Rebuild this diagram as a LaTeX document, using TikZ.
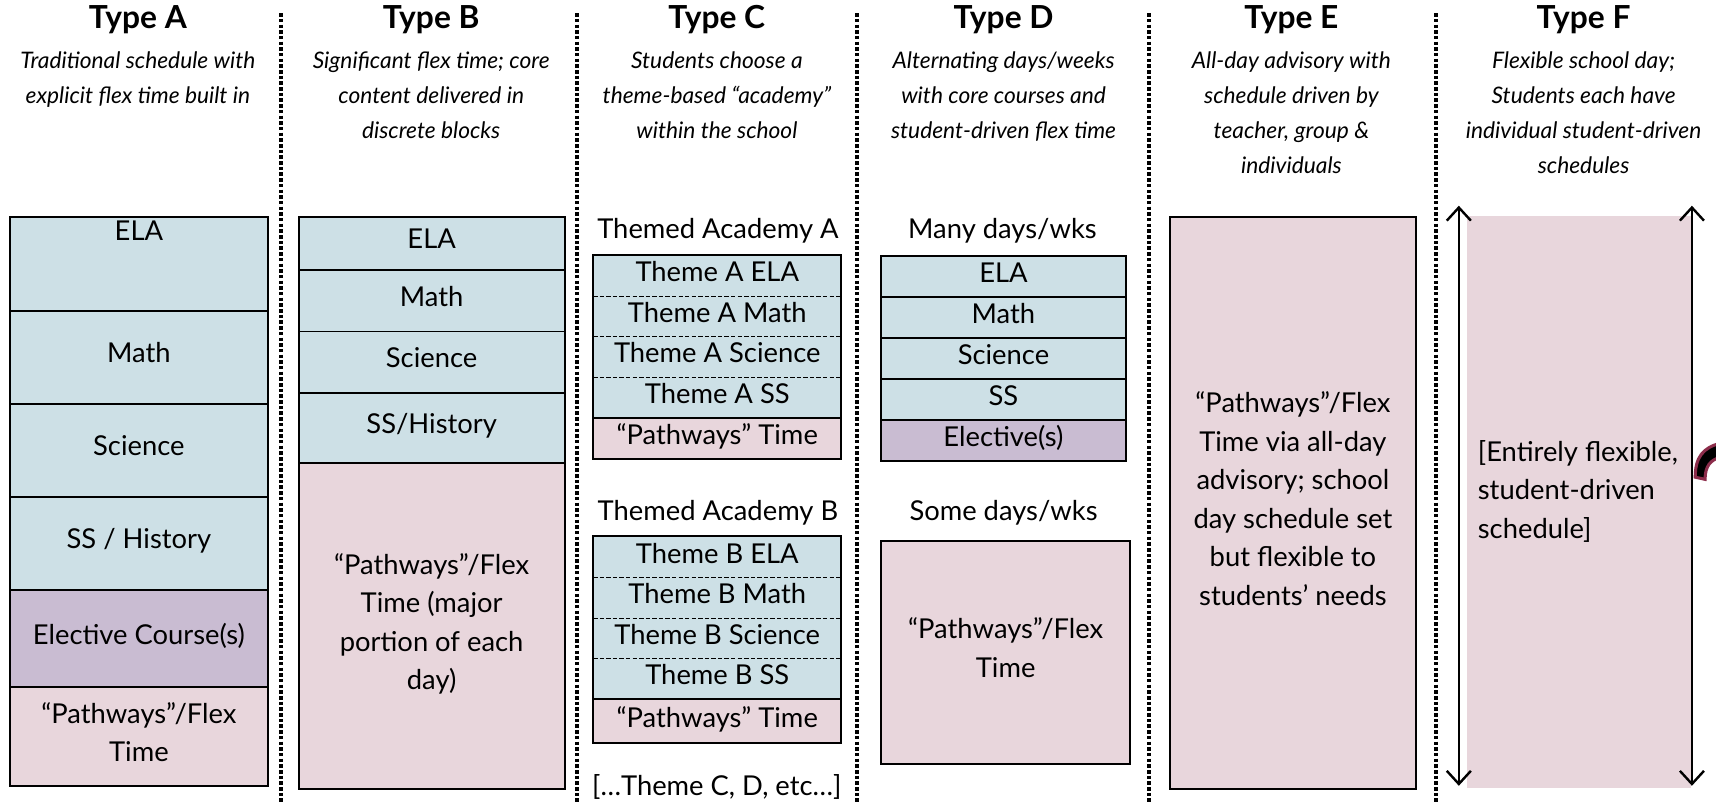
\documentclass[tikz,border=0pt]{standalone}
\usepackage{fontspec}
\setmainfont{Lato}
\usepackage{xcolor}
\usepackage{tikz}
\usetikzlibrary{positioning,calc,arrows.meta}
\definecolor{CoreBlue}{RGB}{205,224,230}
\definecolor{FlexPink}{RGB}{232,214,220}
\definecolor{ElecPurple}{RGB}{201,188,210}
\definecolor{SwooshRed}{RGB}{140,45,75}
\newcommand\bodyfont{\fontsize{12.5}{17.6}\selectfont}
\newcommand\subfont{\fontsize{10.4}{16}\selectfont\itshape}
\newcommand\typefont{\fontsize{14.5}{17}\selectfont\bfseries}

\begin{document}
\begin{tikzpicture}[
		x=0.5pt, y=-0.5pt,
		cell/.style={draw, line width=0.9pt, anchor=north west, inner sep=0pt, align=center, font=\bodyfont, text depth=4pt},
		core/.style={cell, fill=CoreBlue},
		flex/.style={cell, fill=FlexPink},
		elec/.style={cell, fill=ElecPurple},
		flat/.style={anchor=north west, inner sep=0pt, fill=CoreBlue, font=\bodyfont, text depth=3.5pt},
		head/.style={font=\typefont},
		sub/.style={font=\subfont, align=center, anchor=north, inner sep=0pt},
		lbl/.style={font=\bodyfont},
		divider/.style={line width=1.7pt, dash pattern=on 1.6pt off 1pt},
		flexarrow/.style={line width=1.1pt, {Straight Barb[length=6pt,width=11pt]}-{Straight Barb[length=6pt,width=11pt]}}
		]
		\useasboundingbox (0,0) rectangle (1568,736.5);
		
		% ===== headers =====
		\foreach \x/\t in {126/A,394/B,655/C,917/D,1180/E,1447/F}{
			\node[head] (T\t) at (\x,18) {Type \t};
		}
		\node[sub] (SA) at (126,47) {Traditional schedule with\\explicit flex time built in};
		\node[sub] (SB) at (394,47) {Significant flex time; core\\content delivered in\\discrete blocks};
		\node[sub] (SC) at (655,47) {Students choose a\\theme-based “academy”\\within the school};
		\node[sub] (SD) at (917,47) {Alternating days/weeks\\with core courses and\\student-driven flex time};
		\node[sub] (SE) at (1180,47) {All-day advisory with\\schedule driven by\\teacher, group \&\\individuals};
		\node[sub] (SF) at (1447,47) {Flexible school day;\\Students each have\\individual student-driven\\schedules};
		
		% ===== dotted dividers =====
		\foreach \x in {257,527,783,1050,1312}{
			\draw[divider] (\x,12) -- (\x,734);
		}
		
		% ===== Type A =====
		\node[core, minimum width=118pt, minimum height=43pt, text depth=30pt] (A1) at (8,197) {ELA};
		\node[core, minimum width=118pt, minimum height=42.5pt] (A2) at (8,283) {Math};
		\node[core, minimum width=118pt, minimum height=42.5pt] (A3) at (8,368) {Science};
		\node[core, minimum width=118pt, minimum height=42.5pt] (A4) at (8,453) {SS / History};
		\node[elec, minimum width=118pt, minimum height=44.5pt] (A5) at (8,538) {Elective Course(s)};
		\node[flex, minimum width=118pt, minimum height=45pt] (A6) at (8,627) {“Pathways”/Flex\\Time};
		
		% ===== Type B =====
		\node[core, minimum width=121.5pt, minimum height=24.5pt] (B1) at (272,197) {ELA};
		\node[core, minimum width=121.5pt, minimum height=28pt] (B2) at (272,246) {Math};
		\node[core, minimum width=121.5pt, minimum height=28pt] (B3) at (272,302) {Science};
		\node[core, minimum width=121.5pt, minimum height=32pt] (B4) at (272,358) {SS/History};
		\node[flex, minimum width=121.5pt, minimum height=149pt] (B5) at (272,422) {“Pathways”/Flex\\Time (major\\portion of each\\day)};
		
		% ===== Type C =====
		\node[lbl] (CAlbl) at (656,211) {Themed Academy A};
		\foreach \t [count=\i] in {Theme A ELA,Theme A Math,Theme A Science,Theme A SS}{
			\node[flat, minimum width=113pt, minimum height=18.5pt] (CA\i) at (542,{233+(\i-1)*37}) {\t};
		}
		\node[flat, fill=FlexPink, minimum width=113pt, minimum height=19pt] (CA5) at (542,381) {“Pathways” Time};
		\foreach \i in {1,2,3}{
			\draw[line width=0.5pt, dash pattern=on 2pt off 1pt] (CA\i.south west) -- (CA\i.south east);
		}
		\draw[line width=0.9pt] (CA4.south west) -- (CA4.south east);
		\draw[line width=0.9pt] (CA1.north west) rectangle (CA5.south east);
		
		\node[lbl] (CBlbl) at (656,469) {Themed Academy B};
		\foreach \t [count=\i] in {Theme B ELA,Theme B Math,Theme B Science,Theme B SS}{
			\node[flat, minimum width=113pt, minimum height=18.5pt] (CB\i) at (542,{490+(\i-1)*37}) {\t};
		}
		\node[flat, fill=FlexPink, minimum width=113pt, minimum height=20pt] (CB5) at (542,638) {“Pathways” Time};
		\foreach \i in {1,2,3}{
			\draw[line width=0.5pt, dash pattern=on 2pt off 1pt] (CB\i.south west) -- (CB\i.south east);
		}
		\draw[line width=0.9pt] (CB4.south west) -- (CB4.south east);
		\draw[line width=0.9pt] (CB1.north west) rectangle (CB5.south east);
		
		\node[lbl] (CMore) at (655,719) {[…Theme C, D, etc…]};
		
		% ===== Type D =====
		\node[lbl] (DMany) at (916,211) {Many days/wks};
		\foreach \t [count=\i] in {ELA,Math,Science,SS}{
			\node[core, minimum width=112pt, minimum height=18.7pt, text depth=3.5pt] (D\i) at (804,{233+(\i-1)*37.4}) {\t};
		}
		\node[elec, minimum width=112pt, minimum height=18.7pt, text depth=3.5pt] (D5) at (804,382.6) {Elective(s)};
		\node[lbl] (DSome) at (917,469) {Some days/wks};
		\node[flex, minimum width=114pt, minimum height=102pt] (D6) at (804,493) {“Pathways”/Flex\\Time};
		
		% ===== Type E =====
		\node[flex, minimum width=112.5pt, minimum height=261.5pt] (E1) at (1068,197) {“Pathways”/Flex\\Time via all-day\\advisory; school\\day schedule set\\but flexible to\\students’ needs};
		
		% ===== Type F =====
		\node[flat, fill=FlexPink, minimum width=102.5pt, minimum height=261.5pt] (F1) at (1340,197) {};
		\node[lbl, align=left, anchor=west, inner sep=0pt] (Ftxt) at (1350,449) {[Entirely flexible,\\student-driven\\schedule]};
		\coordinate (FLbot) at (1333,718);
		\coordinate (FLtop) at (1333,188);
		\coordinate (FRbot) at (1546,718);
		\coordinate (FRtop) at (1546,188);
		\draw[flexarrow] (FLbot) -- (FLtop);
		\draw[flexarrow] (FRbot) -- (FRtop);
		
		% swoosh cut by the edge
		\draw[SwooshRed, line width=1.4pt, fill=black]
		(1549,436) .. controls (1549,418) and (1556,409) .. (1572,405)
		-- (1572,418) .. controls (1563,420) and (1558,426) .. (1558,438) -- cycle;
		
	\end{tikzpicture}
\end{document}
